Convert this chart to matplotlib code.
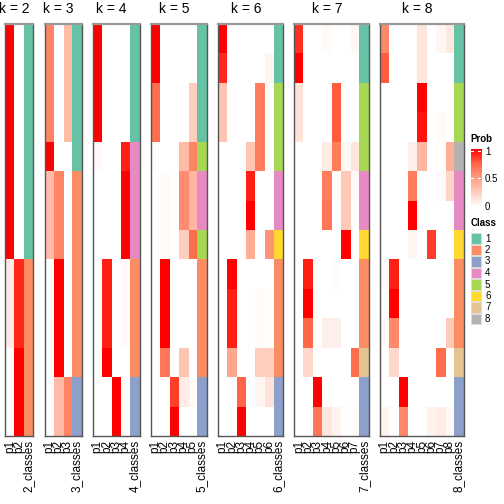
import numpy as np
import matplotlib
matplotlib.use("Agg")
import matplotlib.pyplot as plt
from matplotlib.colors import LinearSegmentedColormap, ListedColormap
from matplotlib.patches import Rectangle

plt.rcParams['font.family'] = ['Liberation Sans', 'DejaVu Sans']

# membership probabilities (rows = samples, cols = p1..pk) and class per sample
prob2 = [[1, 0]] * 8 + [[0.1, 0.9]] * 3 + [[0, 1]] * 3
class2 = [1] * 8 + [2] * 6

prob3 = ([[0.62, 0, 0.35]] * 4 + [[1, 0, 0]] + [[0.35, 0.62, 0]] * 3 +
         [[0, 1, 0]] * 4 + [[0, 0.35, 0.62]] * 2)
class3 = [1] * 5 + [2] * 7 + [3] * 2

prob4 = ([[1, 0, 0, 0]] * 4 + [[0.03, 0, 0, 0.92]] + [[0, 0, 0, 1]] * 3 +
         [[0, 0.92, 0, 0.03]] * 3 + [[0, 1, 0, 0]] + [[0, 0, 1, 0]] * 2)
class4 = [1] * 4 + [4] * 4 + [2] * 4 + [3] * 2

prob5 = ([[1, 0, 0, 0, 0]] * 2 + [[0.72, 0, 0, 0, 0.25]] * 2 +
         [[0.02, 0, 0, 0.35, 0.62]] + [[0, 0.02, 0, 0.58, 0.38]] * 2 +
         [[0, 0.02, 0, 0.25, 0.72]] + [[0, 1, 0, 0, 0]] * 3 +
         [[0, 0.68, 0, 0.3, 0]] + [[0, 0, 0.85, 0.1, 0.02]] + [[0, 0, 1, 0, 0]])
class5 = [1] * 4 + [5] + [4] * 2 + [5] + [2] * 4 + [3] * 2

prob6 = ([[1, 0, 0, 0, 0, 0]] + [[0.9, 0, 0, 0, 0, 0.05]] +
         [[0.3, 0, 0, 0, 0.65, 0]] * 2 + [[0, 0, 0, 0.3, 0.65, 0]] +
         [[0, 0, 0, 0.92, 0, 0]] + [[0, 0, 0, 1, 0, 0]] +
         [[0, 0, 0, 0.42, 0, 0.55]] + [[0, 1, 0, 0, 0, 0]] +
         [[0, 0.92, 0, 0, 0.02, 0]] * 2 + [[0, 0.45, 0, 0, 0.25, 0.25]] +
         [[0, 0, 0.75, 0, 0.05, 0.15]] + [[0, 0, 1, 0, 0, 0]])
class6 = [1] * 2 + [5] * 3 + [4] * 2 + [6] + [2] * 4 + [3] * 2

prob7 = ([[0.88, 0, 0, 0.02, 0, 0, 0.04]] + [[1, 0, 0, 0, 0, 0, 0]] +
         [[0.15, 0, 0, 0, 0.78, 0, 0]] * 2 + [[0, 0, 0, 0.1, 0.65, 0.04, 0.13]] +
         [[0, 0, 0, 0.65, 0.02, 0.28, 0.03]] + [[0, 0, 0, 0.68, 0, 0.28, 0]] +
         [[0, 0, 0, 0, 0, 1, 0]] + [[0, 0.92, 0, 0, 0.02, 0, 0]] +
         [[0, 1, 0, 0, 0, 0, 0]] + [[0, 0.75, 0, 0.08, 0.08, 0, 0]] +
         [[0, 0.2, 0, 0, 0, 0, 0.72]] + [[0, 0, 1, 0, 0, 0, 0]] +
         [[0, 0, 0.68, 0.13, 0.06, 0, 0.02]])
class7 = [1] * 2 + [5] * 3 + [4] * 2 + [6] + [2] * 3 + [7] + [3] * 2

prob8 = ([[0.6, 0, 0, 0, 0.13, 0, 0.05, 0.12]] + [[0.78, 0, 0, 0, 0.13, 0, 0, 0]] +
         [[0, 0, 0, 0, 1, 0, 0, 0]] + [[0, 0, 0, 0, 0.95, 0, 0.02, 0]] +
         [[0, 0, 0, 0.08, 0.38, 0, 0, 0.42]] + [[0, 0, 0, 0.65, 0, 0, 0.03, 0.22]] +
         [[0, 0, 0, 1, 0, 0, 0, 0]] + [[0, 0, 0, 0.05, 0, 0.85, 0, 0]] +
         [[0.03, 0.92, 0, 0, 0, 0, 0, 0]] + [[0, 1, 0, 0, 0, 0, 0, 0]] +
         [[0.03, 0.6, 0, 0, 0, 0, 0, 0.28]] + [[0, 0.2, 0, 0, 0, 0, 0.72, 0]] +
         [[0, 0, 1, 0, 0, 0, 0, 0]] + [[0.06, 0, 0.6, 0, 0, 0.07, 0.1, 0.03]])
class8 = [1] * 2 + [5] * 2 + [8] + [4] * 2 + [6] + [2] * 3 + [7] + [3] * 2

ks = [2, 3, 4, 5, 6, 7, 8]
probs = [prob2, prob3, prob4, prob5, prob6, prob7, prob8]
classes = [class2, class3, class4, class5, class6, class7, class8]

class_colors = ['#66C2A5', '#FC8D62', '#8DA0CB', '#E78AC3',
                '#A6D854', '#FFD92F', '#E5C494', '#B3B3B3']
class_labels = ['1', '2', '3', '4', '5', '6', '7', '8']
prob_ticks = [0, 0.5, 1]

prob_cmap = LinearSegmentedColormap.from_list(
    'prob', ['#FFFFFF', '#FFCFBF', '#FF9E82', '#FF6846', '#FF0000'])
class_cmap = ListedColormap(class_colors)

W = H = 504.0
fig = plt.figure(figsize=(5.04, 5.04), dpi=100)

colw = 9.3     # px per column
gap = 11.3
top, bottom = 24, 436
x = 5.3
for k, p, c in zip(ks, probs, classes):
    p = np.array(p, dtype=float)
    n = p.shape[0]
    w = (k + 1) * colw
    ax = fig.add_axes([x / W, (H - bottom) / H, w / W, (bottom - top) / H])
    ax.imshow(p, cmap=prob_cmap, vmin=0, vmax=1, aspect='auto',
              interpolation='nearest', extent=(-0.5, k - 0.5, n - 0.5, -0.5))
    ax.imshow(np.array(c)[:, None], cmap=class_cmap, vmin=0.5, vmax=8.5,
              aspect='auto', interpolation='nearest',
              extent=(k - 0.5, k + 0.5, n - 0.5, -0.5))
    ax.set_xlim(-0.5, k + 0.5)
    ax.set_ylim(n - 0.5, -0.5)
    ax.set_yticks([])
    ax.set_xticks(range(k + 1))
    ax.set_xticklabels(['p%d' % (i + 1) for i in range(k)] + ['%d_classes' % k],
                       rotation=90, fontsize=8.5)
    ax.tick_params(axis='x', length=0, pad=3)
    for s in ax.spines.values():
        s.set_color('#555555')
        s.set_linewidth(1.0)
    ax.spines['top'].set_color('#999999')
    ax.spines['top'].set_linewidth(1.6)
    ax.text((k - 1) / 2.0, -0.76, 'k = %d' % k, ha='center', va='bottom',
            fontsize=10, clip_on=False)
    x += w + gap

# Prob legend
cax = fig.add_axes([470.5 / W, (H - 207) / H, 10.3 / W, 58 / H])
grad = np.linspace(0, 1, 200)[:, None]
cax.imshow(grad, cmap=prob_cmap, vmin=0, vmax=1, aspect='auto', origin='lower',
           extent=(0, 1, -0.02, 1.03))
cax.set_xlim(0, 1)
cax.set_ylim(-0.02, 1.03)
cax.set_xticks([])
cax.yaxis.tick_right()
cax.set_yticks(prob_ticks)
cax.set_yticklabels(['0', '0.5', '1'], fontsize=7)
cax.tick_params(axis='y', length=0, pad=3)
for v in prob_ticks[1:]:
    cax.plot([0, 0.25], [v, v], color='white', lw=0.8)
    cax.plot([0.75, 1], [v, v], color='white', lw=0.8)
for s in cax.spines.values():
    s.set_visible(False)
fig.text(470.5 / W, 1 - 139 / H, 'Prob', fontsize=7, fontweight='bold',
         ha='left', va='center')

# Class legend
lax = fig.add_axes([0, 0, 1, 1])
lax.set_xlim(0, W)
lax.set_ylim(H, 0)
lax.axis('off')
lax.text(470.5, 223.5, 'Class', fontsize=7, fontweight='bold', ha='left', va='center')
for i, (col, lab) in enumerate(zip(class_colors, class_labels)):
    y0 = 233.3 + i * 11.5
    lax.add_patch(Rectangle((470.7, y0), 10.3, 10.3, facecolor=col,
                            edgecolor='#dddddd', lw=0.6))
    lax.text(485, y0 + 5.2, lab, fontsize=7, ha='left', va='center')

fig.savefig('out.png', dpi=100)
